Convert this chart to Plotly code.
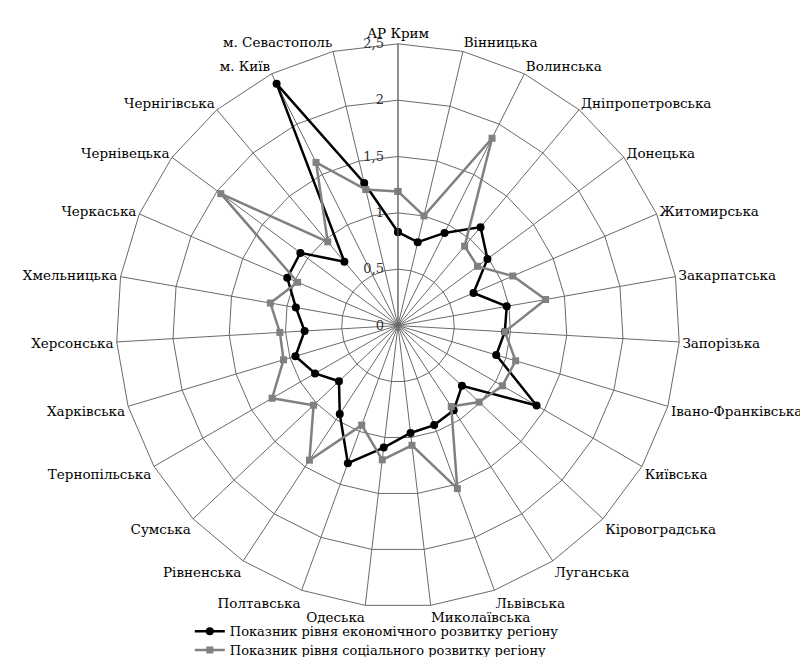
import plotly.graph_objects as go

regions = ["АР Крим", "Вінницька", "Волинська", "Дніпропетровська", "Донецька",
           "Житомирська", "Закарпатська", "Запорізька", "Івано-Франківська", "Київська",
           "Кіровоградська", "Луганська", "Львівська", "Миколаївська", "Одеська",
           "Полтавська", "Рівненська", "Сумська", "Тернопільська", "Харківська",
           "Херсонська", "Хмельницька", "Черкаська", "Чернівецька", "Чернігівська",
           "м. Київ", "м. Севастополь"]

economic = [0.83, 0.76, 0.92, 1.14, 0.99, 0.73, 0.98, 0.95, 0.91, 1.42,
            0.78, 0.90, 0.94, 0.96, 1.09, 1.30, 0.94, 0.72, 0.85, 0.95,
            0.83, 0.92, 1.07, 1.08, 0.74, 2.40, 1.30]

social = [1.19, 1.00, 1.86, 0.92, 0.88, 1.11, 1.33, 0.95, 1.09, 1.07,
          0.99, 0.86, 1.54, 1.07, 1.20, 0.94, 1.43, 1.03, 1.29, 1.06,
          1.05, 1.15, 0.97, 1.96, 0.97, 1.62, 1.24]

names = ["Показник рівня економічного розвитку регіону",
         "Показник рівня соціального розвитку регіону"]

tick_vals = [0, 0.5, 1, 1.5, 2, 2.5]

FONT = "DejaVu Serif, Liberation Serif, serif"


def closed(a):
    return list(a) + [a[0]]


fig = go.Figure()
fig.add_trace(go.Scatterpolar(
    r=closed(economic), theta=closed(regions), mode="lines+markers",
    name=names[0], legend="legend", line=dict(color="black", width=2.5),
    marker=dict(symbol="circle", size=8, color="black")))
fig.add_trace(go.Scatterpolar(
    r=closed(social), theta=closed(regions), mode="lines+markers",
    name=names[1], legend="legend2", line=dict(color="#808080", width=2.5),
    marker=dict(symbol="square", size=7, color="#808080")))

legend_style = dict(xanchor="left", yanchor="top",
                    font=dict(family=FONT, size=13, color="black"),
                    bgcolor="rgba(0,0,0,0)", itemwidth=30)

fig.update_layout(
    width=808, height=657,
    margin=dict(l=0, r=0, t=0, b=0),
    paper_bgcolor="white", plot_bgcolor="white",
    separators=", ",
    font=dict(family=FONT, size=13.5, color="black"),
    polar=dict(
        domain=dict(x=[0.1324, 0.8329], y=[0.0837, 0.9452]),
        bgcolor="white",
        gridshape="linear",
        angularaxis=dict(direction="clockwise", rotation=90, type="category",
                         categoryorder="array", categoryarray=regions,
                         showgrid=True, gridcolor="#6a6a6a", gridwidth=1,
                         showline=True, linecolor="#6a6a6a", linewidth=1,
                         ticks="",
                         tickfont=dict(family=FONT, size=13.5, color="black")),
        radialaxis=dict(range=[0, 2.5], tickvals=tick_vals, showgrid=True,
                        gridcolor="#6a6a6a", gridwidth=1, showline=True,
                        linecolor="#6a6a6a", linewidth=1, angle=90, tickangle=90,
                        ticks="outside", ticklen=9, tickcolor="rgba(0,0,0,0)",
                        side="counterclockwise",
                        tickfont=dict(family=FONT, size=13, color="#333333"))),
    legend=dict(x=0.225, y=0.070, **legend_style),
    legend2=dict(x=0.225, y=0.041, **legend_style),
    showlegend=True,
)

fig.write_html("out.html")
